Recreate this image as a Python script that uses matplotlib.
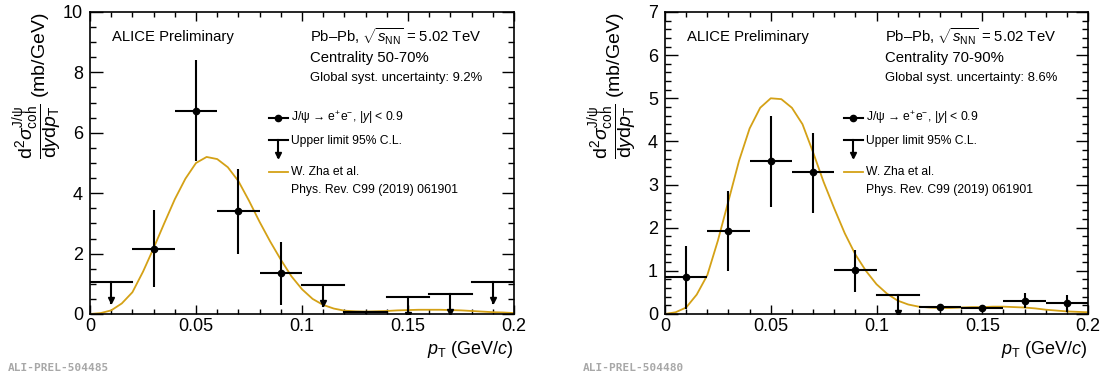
import numpy as np
import matplotlib
matplotlib.use("Agg")
import matplotlib.pyplot as plt
from matplotlib.ticker import MultipleLocator, FuncFormatter

plt.rcParams['font.family'] = ['Liberation Sans', 'DejaVu Sans']
plt.rcParams['mathtext.fontset'] = 'custom'
plt.rcParams['mathtext.rm'] = 'Liberation Sans'
plt.rcParams['mathtext.it'] = 'Liberation Sans:italic'
plt.rcParams['mathtext.bf'] = 'Liberation Sans:bold'

# ---------------- data ----------------
bin_edges = [0.0, 0.02, 0.04, 0.06, 0.08, 0.10, 0.12, 0.14, 0.16, 0.18, 0.20]

# Centrality 50-70 %
c1_pt = [0.03, 0.05, 0.07, 0.09]
c1_val = [2.15, 6.72, 3.40, 1.37]
c1_lo = [0.90, 5.05, 2.00, 0.30]
c1_hi = [3.45, 8.42, 4.80, 2.40]
c1_ul_pt = [0.01, 0.11, 0.13, 0.15, 0.17, 0.19]
c1_ul = [1.05, 0.95, 0.06, 0.55, 0.65, 1.05]

# Centrality 70-90 %
c2_pt = [0.01, 0.03, 0.05, 0.07, 0.09, 0.13, 0.15, 0.17, 0.19]
c2_val = [0.86, 1.92, 3.54, 3.28, 1.02, 0.17, 0.14, 0.30, 0.25]
c2_lo = [0.12, 1.00, 2.48, 2.35, 0.52, 0.10, 0.06, 0.15, 0.04]
c2_hi = [1.58, 2.85, 4.59, 4.19, 1.48, 0.24, 0.21, 0.48, 0.44]
c2_ul_pt = [0.11]
c2_ul = [0.44]

# Model: W. Zha et al.
model_pt = [0.000, 0.005, 0.010, 0.015, 0.020, 0.025, 0.030, 0.035, 0.040, 0.045,
            0.050, 0.055, 0.060, 0.065, 0.070, 0.075, 0.080, 0.085, 0.090, 0.095,
            0.100, 0.105, 0.110, 0.115, 0.120, 0.125, 0.130, 0.135, 0.140, 0.145,
            0.150, 0.155, 0.160, 0.165, 0.170, 0.175, 0.180, 0.185, 0.190, 0.195, 0.200]
model_c1 = [0.00, 0.03, 0.12, 0.35, 0.72, 1.40, 2.18, 3.00, 3.80, 4.48,
            5.00, 5.20, 5.13, 4.86, 4.40, 3.75, 3.05, 2.40, 1.80, 1.25,
            0.82, 0.50, 0.30, 0.18, 0.11, 0.09, 0.08, 0.09, 0.10, 0.12,
            0.13, 0.14, 0.14, 0.14, 0.13, 0.12, 0.10, 0.08, 0.06, 0.05, 0.03]
model_c2 = [0.00, 0.04, 0.15, 0.45, 0.90, 1.70, 2.62, 3.55, 4.30, 4.78,
            5.00, 4.98, 4.78, 4.40, 3.75, 3.06, 2.45, 1.87, 1.38, 1.00,
            0.69, 0.47, 0.31, 0.22, 0.17, 0.15, 0.14, 0.14, 0.15, 0.16,
            0.16, 0.17, 0.17, 0.16, 0.15, 0.13, 0.10, 0.08, 0.06, 0.05, 0.04]

xticks = [0, 0.05, 0.1, 0.15, 0.2]

panels = [
    dict(pt=c1_pt, val=c1_val, lo=c1_lo, hi=c1_hi, ul_pt=c1_ul_pt, ul=c1_ul,
         model=model_c1, ymax=10, ymaj=2, ymin=0.5, cent="Centrality 50-70%",
         syst="Global syst. uncertainty: 9.2%", tag="ALI-PREL-504485"),
    dict(pt=c2_pt, val=c2_val, lo=c2_lo, hi=c2_hi, ul_pt=c2_ul_pt, ul=c2_ul,
         model=model_c2, ymax=7, ymaj=1, ymin=0.2, cent="Centrality 70-90%",
         syst="Global syst. uncertainty: 8.6%", tag="ALI-PREL-504480"),
]

W, H = 1104, 376
fig = plt.figure(figsize=(W / 100, H / 100), dpi=100)
ax_px = [(90, 424), (665, 423)]
model_color = '#d4a116'
half_w = 0.01
elw = 1.5

ylabel = (r'$\dfrac{\mathrm{d}^{2}\sigma^{\mathrm{J}/\mathrm{\psi}}_{\mathrm{coh}}}'
          r'{\mathrm{d}y\mathrm{d}p_{\mathrm{T}}}$ (mb/GeV)')

for p, (x0, w) in zip(panels, ax_px):
    ax = fig.add_axes([x0 / W, 62 / H, w / W, 302 / H])
    ax.set_xlim(0, 0.2)
    ax.set_ylim(0, p['ymax'])

    # model
    ax.plot(model_pt, p['model'], color=model_color, lw=1.3, zorder=2)

    # data points
    pt = np.array(p['pt']); val = np.array(p['val'])
    ax.errorbar(pt, val, xerr=half_w,
                yerr=[val - np.array(p['lo']), np.array(p['hi']) - val],
                fmt='o', color='black', ms=4.5, elinewidth=elw, capsize=0, zorder=3)

    # upper limits
    arr_len = 0.07 * p['ymax']
    for x, u in zip(p['ul_pt'], p['ul']):
        ax.plot([x - half_w, x + half_w], [u, u], color='black', lw=elw, zorder=3)
        ax.plot([x, x], [u, u - arr_len], color='black', lw=elw, zorder=3)
        ax.plot([x], [u - arr_len + 0.012 * p['ymax']], marker='v', color='black',
                ms=4.5, zorder=3)

    # axes styling
    for s in ax.spines.values():
        s.set_linewidth(1.2)
    ax.xaxis.set_major_locator(MultipleLocator(0.05))
    ax.xaxis.set_minor_locator(MultipleLocator(0.01))
    ax.yaxis.set_major_locator(MultipleLocator(p['ymaj']))
    ax.yaxis.set_minor_locator(MultipleLocator(p['ymin']))
    ax.xaxis.set_major_formatter(FuncFormatter(lambda v, _: '%g' % round(v, 3)))
    ax.yaxis.set_major_formatter(FuncFormatter(lambda v, _: '%g' % round(v, 3)))
    ax.tick_params(which='both', direction='in', top=True, right=True,
                   labelsize=13, width=1.0, colors='black')
    ax.tick_params(axis='x', which='major', length=6.5, pad=3)
    ax.tick_params(axis='x', which='minor', length=3.3)
    ax.tick_params(axis='y', which='major', length=9, pad=5)
    ax.tick_params(axis='y', which='minor', length=4.5)

    # texts
    tr = ax.transAxes
    ax.text(0.052, 0.917, 'ALICE Preliminary', transform=tr, fontsize=10.7,
            va='center', ha='left')
    ax.text(0.52, 0.917, r'Pb–Pb, $\sqrt{s_{\mathrm{NN}}}$ = 5.02 TeV', transform=tr,
            fontsize=10.7, va='center', ha='left')
    ax.text(0.52, 0.848, p['cent'], transform=tr, fontsize=10.7, va='center', ha='left')
    ax.text(0.52, 0.780, p['syst'], transform=tr, fontsize=9.4, va='center', ha='left')

    # legend
    lx0, lx1, lxm, tx = 0.422, 0.467, 0.4445, 0.474
    ax.plot([lx0, lx1], [0.649, 0.649], transform=tr, color='black', lw=elw, clip_on=False)
    ax.plot([lxm], [0.649], transform=tr, marker='o', color='black', ms=4.5, clip_on=False)
    ax.text(tx, 0.649, r'J/ψ → e$^{+}$e$^{-}$, |$y$| < 0.9', transform=tr,
            fontsize=8.7, va='center', ha='left')
    ax.plot([lx0, lx1], [0.575, 0.575], transform=tr, color='black', lw=elw, clip_on=False)
    ax.plot([lxm, lxm], [0.575, 0.52], transform=tr, color='black', lw=elw, clip_on=False)
    ax.plot([lxm], [0.525], transform=tr, marker='v', color='black', ms=5, clip_on=False)
    ax.text(tx, 0.572, 'Upper limit 95% C.L.', transform=tr, fontsize=8.7,
            va='center', ha='left')
    ax.plot([lx0, lx1], [0.470, 0.470], transform=tr, color=model_color, lw=1.3,
            clip_on=False)
    ax.text(tx, 0.470, 'W. Zha et al.', transform=tr, fontsize=8.7, va='center', ha='left')
    ax.text(tx, 0.411, 'Phys. Rev. C99 (2019) 061901', transform=tr, fontsize=8.7,
            va='center', ha='left')

    # axis labels
    fig.text((x0 - 52) / W, 1 - 12 / H, ylabel, rotation=90, ha='center', va='top',
             fontsize=14)
    fig.text((x0 + w) / W, 1 - 350 / H, r'$p_{\mathrm{T}}$ (GeV/$c$)', ha='right',
             va='center', fontsize=13)
    fig.text((x0 - 82) / W, 1 - 368 / H, p['tag'], family='DejaVu Sans Mono',
             weight='bold', color='#a8a8a8', fontsize=8, ha='left', va='center')

fig.savefig('out.png', dpi=100)
